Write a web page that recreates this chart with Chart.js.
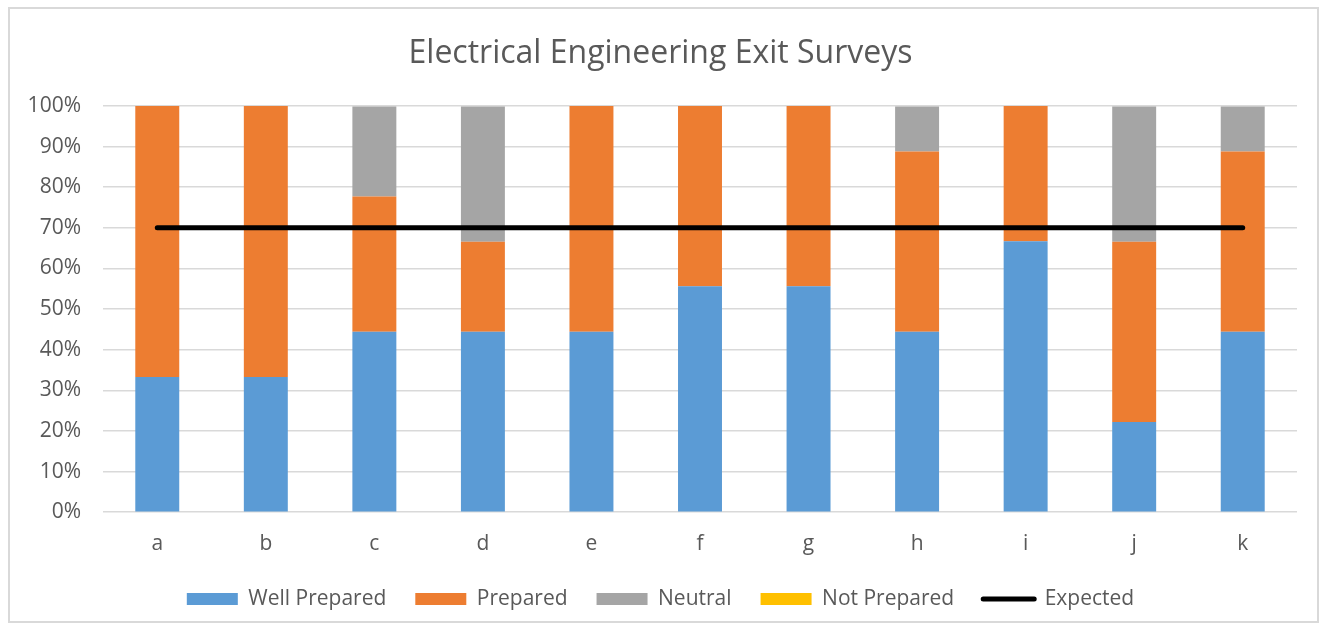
<!DOCTYPE html>
<html>
<head>
<meta charset="utf-8">
<script src="https://cdn.jsdelivr.net/npm/chart.js@4"></script>
<style>
  body { margin: 0; background: #fff; }
  #frame { position: absolute; left: 8px; top: 7px; width: 1311px; height: 616px; border: 2px solid #d9d9d9; box-sizing: border-box; }
  #wrap { position: absolute; left: 24px; top: 0; width: 1300px; height: 628px; }
</style>
</head>
<body>
<div id="frame"></div>
<div id="wrap"><canvas id="surveyChart" width="1300" height="628"></canvas></div>
<script>
// ── DATA ──
const categories = ['a', 'b', 'c', 'd', 'e', 'f', 'g', 'h', 'i', 'j', 'k'];
const wellPrepared = [33.3, 33.3, 44.4, 44.4, 44.4, 55.6, 55.6, 44.4, 66.7, 22.2, 44.4];
const prepared     = [66.7, 66.7, 33.3, 22.2, 55.6, 44.4, 44.4, 44.4, 33.3, 44.4, 44.4];
const neutral      = [0, 0, 22.2, 33.3, 0, 0, 0, 11.1, 0, 33.3, 11.1];
const notPrepared  = [0, 0, 0, 0, 0, 0, 0, 0, 0, 0, 0];
const expected     = [70, 70, 70, 70, 70, 70, 70, 70, 70, 70, 70];
const yTicks = [0, 10, 20, 30, 40, 50, 60, 70, 80, 90, 100];

const FONT = "'Open Sans', Lato, sans-serif";
const TXT = '#595959';

function bar(label, data, color) {
    return { type: 'bar', label, data, backgroundColor: color, borderWidth: 0,
        barPercentage: 0.405, categoryPercentage: 1, order: 1, stack: 'main' };
}

new Chart(document.getElementById('surveyChart'), {
    data: {
        labels: categories,
        datasets: [
            bar('Well Prepared', wellPrepared, '#5b9bd5'),
            bar('Prepared', prepared, '#ed7d31'),
            bar('Neutral', neutral, '#a5a5a5'),
            bar('Not Prepared', notPrepared, '#ffc000'),
            { type: 'line', label: 'Expected', data: expected, borderColor: '#000', backgroundColor: '#000',
              borderWidth: 5, borderCapStyle: 'round', pointRadius: 0, tension: 0, order: 0, stack: 'exp' }
        ]
    },
    options: {
        responsive: false, animation: false,
        layout: { padding: { left: 0, right: 27, top: 0, bottom: 8.4 } },
        plugins: {
            tooltip: { enabled: false },
            title: { display: true, text: 'Electrical Engineering Exit Surveys', color: TXT,
                font: { family: FONT, size: 32, weight: 'normal' }, padding: { top: 35, bottom: 32.6 } },
            legend: {
                position: 'bottom',
                labels: {
                    color: TXT, font: { family: FONT, size: 21 }, padding: 29,
                    usePointStyle: true, pointStyleWidth: 51, boxHeight: 12,
                    generateLabels: chart => chart.data.datasets.map((ds, i) => ({
                        text: ds.label, datasetIndex: i, fontColor: TXT,
                        fillStyle: ds.backgroundColor, strokeStyle: ds.type === 'line' ? '#000' : ds.backgroundColor,
                        lineWidth: ds.type === 'line' ? 5 : 0, lineCap: 'round',
                        pointStyle: ds.type === 'line' ? 'line' : 'rect', hidden: false
                    }))
                }
            }
        },
        scales: {
            x: {
                grid: { display: false, drawTicks: false }, border: { display: false },
                ticks: { color: TXT, font: { family: FONT, size: 21 }, padding: 19 },
                afterFit: s => { s.height = 47.4; }
            },
            y: {
                stacked: true, min: 0, max: 100,
                afterBuildTicks: s => { s.ticks = yTicks.map(v => ({ value: v })); },
                grid: { color: '#d9d9d9', lineWidth: 1.5, drawTicks: false }, border: { display: false },
                ticks: { color: TXT, font: { family: FONT, size: 21 }, padding: 22, callback: v => v + '%' },
                afterFit: s => { s.width = 79; }
            }
        }
    }
});
</script>
</body>
</html>
